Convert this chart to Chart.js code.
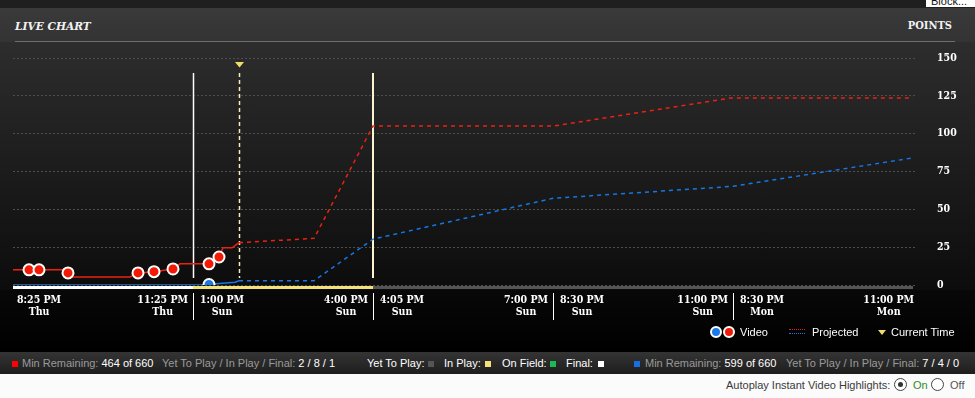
<!DOCTYPE html>
<html>
<head>
<meta charset="utf-8">
<script src="https://cdn.jsdelivr.net/npm/chart.js@4.4.1/dist/chart.umd.min.js"></script>
<style>
  html, body { margin:0; padding:0; }
  body { width:975px; height:398px; overflow:hidden; position:relative; background:#fbfbfb; font-family:"Liberation Sans", Arial, sans-serif; }
  .abs { position:absolute; }
  #topband { left:0; top:0; width:975px; height:8px; background:#1f1f1f; }
  #block { left:926px; top:0; width:49px; height:7px; background:#fff; overflow:hidden; }
  #block span { position:absolute; left:5px; top:-5px; font-size:11px; color:#111; }
  #header { left:0; top:8px; width:975px; height:34px; background:linear-gradient(#3a3a3a,#333333); }
  #plotbg { left:0; top:42px; width:975px; height:248px; background:linear-gradient(#2d2d2d,#0c0c0c); }
  #axisbg { left:0; top:290px; width:975px; height:62px; background:linear-gradient(#080808,#000); }
  #divider { left:15px; top:41px; width:940px; height:1px; background:#6e6e6e; }
  .title { font-family:"DejaVu Serif Condensed","DejaVu Serif",serif; font-weight:bold; color:#f2f2f2; }
  #live { left:15px; top:19px; font-style:italic; font-size:11.8px; }
  #points { right:23px; top:19px; font-size:11px; }
  canvas { position:absolute; left:0; top:0; }
  .leg { font-size:11px; color:#fff; top:325px; line-height:14px; }
  .dot { width:8px; height:8px; border-radius:50%; border:2px solid #fff; box-sizing:content-box; top:326px; }
  #footer { left:0; top:352px; width:975px; height:22px; background:linear-gradient(#343434,#1e1e1e); }
  .ft { top:356px; font-size:11px; line-height:14px; color:#9a9a9a; white-space:nowrap; }
  .ft b { font-weight:normal; color:#fff; }
  .sq { width:6px; height:6px; top:361px; }
  #auto { left:0; top:374px; width:975px; height:24px; background:#fbfbfb; }
  .au { top:378px; font-size:11px; line-height:14px; white-space:nowrap; }
  .radio { width:11px; height:11px; border-radius:50%; border:1.3px solid #444; background:#fff; top:378px; }
  .radio i { position:absolute; left:2.8px; top:2.8px; width:5.4px; height:5.4px; border-radius:50%; background:#333; }
</style>
</head>
<body>
<div id="header" class="abs"></div>
<div id="topband" class="abs"></div>
<div id="block" class="abs"><span>Block...</span></div>
<div id="plotbg" class="abs"></div>
<div id="axisbg" class="abs"></div>
<div id="divider" class="abs"></div>
<div id="live" class="abs title">LIVE CHART</div>
<div id="points" class="abs title">POINTS</div>
<canvas id="c" width="975" height="352"></canvas>

<!-- legend -->
<div class="abs dot" style="left:710px;background:#1a78e8;"></div>
<div class="abs dot" style="left:723px;background:#f01a08;"></div>
<div class="abs leg" style="left:740px;">Video</div>
<div class="abs" style="left:789px;top:329px;width:16px;border-top:1px dotted #e02010;"></div>
<div class="abs" style="left:789px;top:333px;width:16px;border-top:1px dotted #1a78e8;"></div>
<div class="abs leg" style="left:812px;">Projected</div>
<div class="abs" style="left:878px;top:330px;width:0;height:0;border-left:4px solid transparent;border-right:4px solid transparent;border-top:5px solid #f0dc6a;"></div>
<div class="abs leg" style="left:891px;">Current Time</div>

<!-- footer -->
<div id="footer" class="abs"></div>
<div class="abs sq" style="left:12px;background:#ff0000;"></div>
<div class="abs ft" style="left:22px;">Min Remaining: <b>464 of 660</b></div>
<div class="abs ft" style="left:162px;">Yet To Play / In Play / Final: <b>2 / 8 / 1</b></div>
<div class="abs ft" style="left:367px;color:#fff;">Yet To Play:</div>
<div class="abs sq" style="left:428px;background:#555;"></div>
<div class="abs ft" style="left:444px;color:#fff;">In Play:</div>
<div class="abs sq" style="left:485px;background:#f5e07a;"></div>
<div class="abs ft" style="left:502px;color:#fff;">On Field:</div>
<div class="abs sq" style="left:550px;background:#1db954;"></div>
<div class="abs ft" style="left:566px;color:#fff;">Final:</div>
<div class="abs sq" style="left:598px;background:#fff;"></div>
<div class="abs sq" style="left:634px;background:#1a6fe0;"></div>
<div class="abs ft" style="left:645px;">Min Remaining: <b>599 of 660</b></div>
<div class="abs ft" style="left:786px;">Yet To Play / In Play / Final: <b>7 / 4 / 0</b></div>

<!-- autoplay -->
<div id="auto" class="abs"></div>
<div class="abs au" style="left:726px;color:#3a3a3a;">Autoplay Instant Video Highlights:</div>
<div class="abs radio" style="left:894px;"><i></i></div>
<div class="abs au" style="left:913px;color:#2f8a1f;">On</div>
<div class="abs radio" style="left:931px;"></div>
<div class="abs au" style="left:950px;color:#555;">Off</div>

<script>
// ---- data (x = minutes into the chart's game windows, 180 per window) ----
const windowStarts = [0, 180, 360, 540, 720];
const windowEnds   = [180, 360, 540, 720, 900];
const startLabels  = [["8:25 PM","Thu"],["1:00 PM","Sun"],["4:05 PM","Sun"],["8:30 PM","Sun"],["8:30 PM","Mon"]];
const endLabels    = [["11:25 PM","Thu"],["4:00 PM","Sun"],["7:00 PM","Sun"],["11:00 PM","Sun"],["11:00 PM","Mon"]];
const windowStatus = ["final","live","upcoming","upcoming","upcoming"];
const currentTime  = 226;
const yTicks       = [0, 25, 50, 75, 100, 125, 150];

const redActualX  = [0, 50, 55, 60, 117, 125, 141, 160, 167, 190, 196, 206, 210, 219, 226];
const redActualY  = [10, 10, 8, 5.3, 5.3, 8, 8.8, 10.6, 14, 14, 14, 18.5, 24.6, 24.6, 28];
const redProjX    = [226, 301, 360, 540, 717, 900];
const redProjY    = [28, 30.8, 105, 105, 123.5, 123.5];
const blueActualX = [0, 194, 197, 222, 226];
const blueActualY = [0, 0, 0.5, 1.8, 2.8];
const blueProjX   = [226, 301, 360, 540, 720, 900];
const blueProjY   = [2.8, 2.8, 30.3, 57.3, 65.2, 84];
const redVideoX   = [16, 26, 55, 125, 141, 160, 196, 206];
const redVideoY   = [10, 10, 8, 8, 8.8, 10.6, 14, 18.5];
const blueVideoX  = [196];
const blueVideoY  = [0.3];

const RED = '#ee2010', BLUE = '#1478e6';
const pts = (xs, ys) => xs.map((x, i) => ({x, y: ys[i]}));
const statusColor = {final:'#ffffff', live:'#f3e27c', upcoming:'#555555'};
const SLAB = '"DejaVu Serif Condensed","DejaVu Serif",serif';

const decor = {
  id: 'decor',
  beforeDatasetsDraw(chart) {
    const {ctx, chartArea: a, scales: {x}} = chart;
    ctx.save();
    const ls = windowStarts[windowStatus.indexOf('live')];
    const le = windowEnds[windowStatus.indexOf('live')];
    ctx.lineWidth = 1.5;
    ctx.strokeStyle = '#ffffff';
    const pls = Math.round(x.getPixelForValue(ls)) + 0.5;
    ctx.beginPath(); ctx.moveTo(pls, a.top + 15); ctx.lineTo(pls, a.bottom - 7); ctx.stroke();
    ctx.strokeStyle = '#faf5cf';
    ctx.lineWidth = 2;
    const ple = Math.round(x.getPixelForValue(le));
    ctx.beginPath(); ctx.moveTo(ple, a.top + 15); ctx.lineTo(ple, a.bottom - 7); ctx.stroke();
    // current time
    const cx = Math.round(x.getPixelForValue(currentTime)) + 0.5;
    ctx.strokeStyle = '#f6edb8';
    ctx.lineWidth = 1.5;
    ctx.setLineDash([4, 3]);
    ctx.beginPath(); ctx.moveTo(cx, a.top + 15); ctx.lineTo(cx, a.bottom - 7); ctx.stroke();
    ctx.setLineDash([]);
    ctx.fillStyle = '#f0dc6a';
    ctx.beginPath(); ctx.moveTo(cx - 4.5, a.top + 4); ctx.lineTo(cx + 4.5, a.top + 4); ctx.lineTo(cx, a.top + 9.5); ctx.closePath(); ctx.fill();
    ctx.restore();
  },
  afterDatasetsDraw(chart) {
    const {ctx, chartArea: a, scales: {x}} = chart;
    ctx.save();
    windowStarts.forEach((s, i) => {
      const p0 = x.getPixelForValue(s), p1 = x.getPixelForValue(windowEnds[i]);
      ctx.fillStyle = statusColor[windowStatus[i]];
      ctx.fillRect(p0, a.bottom + 1, p1 - p0, 3);
    });
    ctx.strokeStyle = '#ffffff';
    ctx.lineWidth = 1;
    for (let i = 1; i < windowStarts.length; i++) {
      const p = Math.round(x.getPixelForValue(windowStarts[i])) + 0.5;
      ctx.beginPath(); ctx.moveTo(p, a.bottom + 8); ctx.lineTo(p, a.bottom + 35); ctx.stroke();
    }
    ctx.font = 'bold 10.5px ' + SLAB;
    ctx.fillStyle = '#ffffff';
    ctx.textAlign = 'center';
    ctx.textBaseline = 'middle';
    const n = windowStarts.length;
    startLabels.forEach((lines, i) => {
      const p = x.getPixelForValue(windowStarts[i]);
      const w = Math.max(...lines.map(t => ctx.measureText(t).width));
      const c = p + (i === 0 ? 4 : 7) + w / 2;
      ctx.fillText(lines[0], c, a.bottom + 15);
      ctx.fillText(lines[1], c, a.bottom + 27);
    });
    endLabels.forEach((lines, i) => {
      const p = x.getPixelForValue(windowEnds[i]);
      const w = Math.max(...lines.map(t => ctx.measureText(t).width));
      const c = p + (i === n - 1 ? 1 : -5) - w / 2;
      ctx.fillText(lines[0], c, a.bottom + 15);
      ctx.fillText(lines[1], c, a.bottom + 27);
    });
    ctx.restore();
  }
};

new Chart(document.getElementById('c'), {
  type: 'line',
  data: {
    datasets: [
      {data: pts(redVideoX, redVideoY), showLine: false, pointRadius: 5.5, pointBorderWidth: 2, pointBackgroundColor: '#f21a05', pointBorderColor: '#fff', order: 0},
      {data: pts(blueVideoX, blueVideoY), showLine: false, pointRadius: 5.5, pointBorderWidth: 2, pointBackgroundColor: '#1a78e8', pointBorderColor: '#fff', order: 0},
      {data: pts(redActualX, redActualY), borderColor: RED, borderWidth: 1.5, pointRadius: 0, order: 2},
      {data: pts(redProjX, redProjY), borderColor: RED, borderWidth: 1.5, borderDash: [4, 4], pointRadius: 0, order: 2},
      {data: pts(blueActualX, blueActualY), borderColor: BLUE, borderWidth: 1.5, pointRadius: 0, order: 2},
      {data: pts(blueProjX, blueProjY), borderColor: BLUE, borderWidth: 1.5, borderDash: [4, 4], pointRadius: 0, order: 2}
    ]
  },
  options: {
    responsive: false,
    animation: false,
    devicePixelRatio: 1,
    layout: {padding: {left: 13, right: 0, top: 58, bottom: 67}},
    plugins: {legend: {display: false}, tooltip: {enabled: false}},
    elements: {line: {tension: 0}},
    scales: {
      x: {type: 'linear', min: 0, max: 902, display: false},
      y: {
        position: 'right', min: 0, max: 150,
        afterBuildTicks: s => { s.ticks = yTicks.map(v => ({value: v})); },
        afterFit: s => { s.width = 60; },
        grid: {color: '#4e4e4e', lineWidth: 1, drawTicks: false},
        border: {display: false, dash: [2, 2]},
        ticks: {padding: 22, crossAlign: 'near', color: '#ffffff', font: {family: SLAB, weight: 'bold', size: 10.5}}
      }
    }
  },
  plugins: [decor]
});
</script>
</body>
</html>
